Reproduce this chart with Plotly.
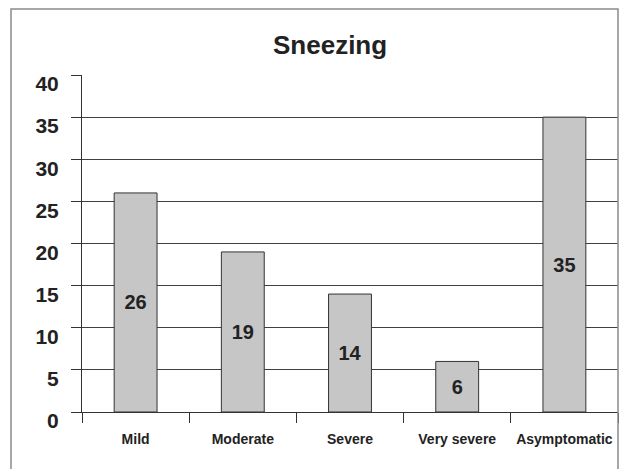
import plotly.graph_objects as go

categories = ["Mild", "Moderate", "Severe", "Very severe", "Asymptomatic"]
values = [26, 19, 14, 6, 35]
title_text = "Sneezing"
y_ticks = [0, 5, 10, 15, 20, 25, 30, 35, 40]

# the page adds an 8px body margin; figure coordinates are page coords minus 8
OFF = 8
W, H = 637 - OFF, 469 - OFF
L, R, T, B = 82 - OFF, 618 - OFF, 75 - OFF, 412 - OFF

fig = go.Figure(go.Bar(
    x=categories, y=values,
    width=0.4,
    marker=dict(color="#c6c6c6", line=dict(color="#333333", width=1)),
    text=[str(v) for v in values],
    textposition="inside", insidetextanchor="middle", textangle=0,
    insidetextfont=dict(family="Liberation Sans, Arial", size=20, color="#222222", weight="bold"),
    hoverinfo="skip",
))

def px_x(p):
    return (p - OFF - L) / (R - L)

def px_y(p):
    return (B - (p - OFF)) / (B - T)

fig.add_shape(type="rect", xref="paper", yref="paper",
              x0=px_x(11), x1=px_x(618), y0=px_y(490), y1=px_y(9),
              line=dict(color="#8a8a8a", width=1.5), layer="above")

fig.add_annotation(text="<b>" + title_text + "</b>", xref="paper", yref="paper",
                   x=px_x(330), y=px_y(45), showarrow=False,
                   font=dict(family="Liberation Sans, Arial", size=26, color="#222222"),
                   xanchor="center", yanchor="middle")

fig.update_layout(
    width=W, height=H,
    margin=dict(l=L, r=W - R, t=T, b=H - B, autoexpand=False),
    paper_bgcolor="white", plot_bgcolor="white",
    showlegend=False,
    font=dict(family="Liberation Sans, Arial", color="#222222"),
)
fig.update_xaxes(
    type="category", tickson="boundaries", ticks="outside", ticklen=10,
    tickcolor="#333333", tickwidth=1, tickangle=0,
    showline=True, linecolor="#333333", linewidth=1,
    showgrid=False, ticklabelstandoff=14,
    tickfont=dict(family="Liberation Sans, Arial", size=14, color="#222222", weight="bold"),
)
fig.update_yaxes(
    range=[0, 40], tickvals=y_ticks, ticks="outside", ticklen=10,
    tickcolor="#333333", tickwidth=1,
    showline=True, linecolor="#333333", linewidth=1,
    showgrid=True, gridcolor="#404040", gridwidth=1,
    zeroline=False, ticklabelstandoff=8, ticklabelshift=9,
    tickfont=dict(family="Liberation Sans, Arial", size=21, color="#222222", weight="bold"),
)

fig.write_html("out.html")
